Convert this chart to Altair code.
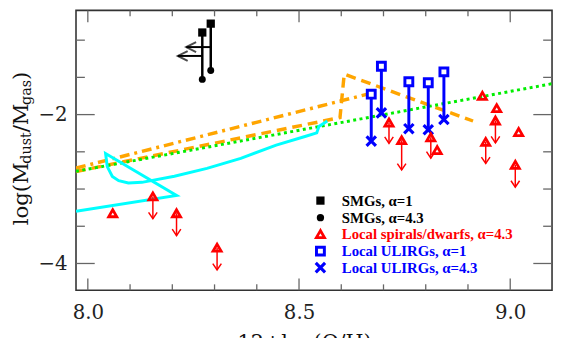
import altair as alt
import pandas as pd

# ---------------- data ----------------
# SMGs (black): alpha=1 (squares) and alpha=4.3 (circles), metallicity upper limits
smg_x = [8.271, 8.291]
smg_y_a1 = [-0.897, -0.778]
smg_y_a43 = [-1.527, -1.408]
smg_limit_dx = [0.058, 0.058]

# Local ULIRGs (blue): alpha=1 (open squares), alpha=4.3 (crosses)
ulirg_x = [8.671, 8.695, 8.760, 8.806, 8.843]
ulirg_y_a1 = [-1.726, -1.351, -1.559, -1.572, -1.426]
ulirg_y_a43 = [-2.356, -1.977, -2.189, -2.203, -2.066]

# Local spirals/dwarfs (red triangles); arrow = length of upper-limit arrow (0 = none)
loc_x = [8.059, 8.154, 8.210, 8.306, 8.713, 8.743, 8.812, 8.827,
         8.934, 8.968, 8.965, 8.942, 9.020, 9.012]
loc_y = [-3.325, -3.099, -3.325, -3.788, -2.106, -2.344, -2.305, -2.477,
         -1.748, -1.914, -2.079, -2.367, -2.234, -2.675]
loc_arrow = [0, 0.30, 0.30, 0.30, 0.28, 0.40, 0.28, 0,
             0, 0, 0.30, 0.29, 0, 0.30]

# model curves
green_x = [7.972, 9.099]
green_y = [-2.762, -1.585]
dashdot_x = [7.972, 8.660]
dashdot_y = [-2.719, -1.728]
dashed_x = [7.972, 8.597, 8.607, 8.912]
dashed_y = [-2.764, -2.040, -1.457, -2.086]
cyan_x = [7.972, 8.210, 8.042, 8.046, 8.058, 8.073, 8.096, 8.128, 8.205,
          8.282, 8.362, 8.446, 8.516, 8.542, 8.547, 8.567]
cyan_y = [-3.298, -3.086, -2.523, -2.698, -2.830, -2.887, -2.918, -2.910,
          -2.828, -2.722, -2.587, -2.411, -2.291, -2.245, -2.159, -2.086]

# axes
x_domain = [7.972, 9.099]
y_domain = [-4.36, -0.6]
x_major = [8.0, 8.5, 9.0]
x_minor = [8.1, 8.2, 8.3, 8.4, 8.6, 8.7, 8.8, 8.9]
y_major = [-4.0, -2.0]
y_minor = [-3.5, -3.0, -2.5, -1.5, -1.0]

legend_labels = ["SMGs, \u03b1=1", "SMGs, \u03b1=4.3",
                 "Local spirals/dwarfs, \u03b1=4.3",
                 "Local ULIRGs, \u03b1=1", "Local ULIRGs, \u03b1=4.3"]

# ---------------- styling ----------------
W, H = 483, 284
RED, BLUE, BLACK = "#ff0000", "#0000ff", "#000000"
ORANGE, CYAN, GREEN = "#ffa500", "#00ffff", "#00ee00"
TICK = "#666666"
SERIF = "DejaVu Serif"

xs = alt.Scale(domain=x_domain, nice=False, zero=False)
ys = alt.Scale(domain=y_domain, nice=False, zero=False)
xaxis = alt.Axis(values=x_major, format=".1f", ticks=False, domain=False,
                 grid=False, labelFont=SERIF, labelFontSize=20,
                 labelColor="#222222", labelPadding=13, title=None)
yaxis = alt.Axis(values=y_major, format="d", ticks=False, domain=False,
                 grid=False, labelFont=SERIF, labelFontSize=20,
                 labelColor="#222222", labelPadding=9, title=None)


def X(f):
    return alt.X(f, type="quantitative", scale=xs, axis=xaxis)


def Y(f):
    return alt.Y(f, type="quantitative", scale=ys, axis=yaxis)


ARROW_DOWN = "M-1,-1.5L0,0L1,-1.5"
ARROW_LEFT = "M2,-1L0,0L2,1"
XSHAPE = "M-1,-1L1,1M-1,1L1,-1"

layers = []

# tick marks (inward)
def tick_layer(vals, axis, length):
    df = pd.DataFrame({"v": vals})
    out = []
    if axis == "x":
        out.append(alt.Chart(df).mark_rule(color=TICK, strokeWidth=1.3).encode(
            x=X("v"), y=alt.value(H), y2=alt.value(H - length)))
        out.append(alt.Chart(df).mark_rule(color=TICK, strokeWidth=1.3).encode(
            x=X("v"), y=alt.value(0), y2=alt.value(length)))
    else:
        out.append(alt.Chart(df).mark_rule(color=TICK, strokeWidth=1.3).encode(
            y=Y("v"), x=alt.value(0), x2=alt.value(length)))
        out.append(alt.Chart(df).mark_rule(color=TICK, strokeWidth=1.3).encode(
            y=Y("v"), x=alt.value(W), x2=alt.value(W - length)))
    return out

layers += tick_layer(x_major, "x", 12)
layers += tick_layer(x_minor, "x", 6)
layers += tick_layer(y_major, "y", 19)
layers += tick_layer(y_minor, "y", 9)

# model curves
df_dashed = pd.DataFrame({"x": dashed_x, "y": dashed_y, "i": range(len(dashed_x))})
layers.append(alt.Chart(df_dashed).mark_line(
    color=ORANGE, strokeWidth=3.5, strokeDash=[10, 6], clip=True).encode(
    x=X("x"), y=Y("y"), order="i:Q"))
df_dd = pd.DataFrame({"x": dashdot_x, "y": dashdot_y, "i": range(len(dashdot_x))})
layers.append(alt.Chart(df_dd).mark_line(
    color=ORANGE, strokeWidth=3.5, strokeDash=[10, 5, 3, 5], clip=True).encode(
    x=X("x"), y=Y("y"), order="i:Q"))
df_green = pd.DataFrame({"x": green_x, "y": green_y, "i": range(len(green_x))})
layers.append(alt.Chart(df_green).mark_line(
    color=GREEN, strokeWidth=3, strokeDash=[3, 3.5], clip=True).encode(
    x=X("x"), y=Y("y"), order="i:Q"))
df_cyan = pd.DataFrame({"x": cyan_x, "y": cyan_y, "i": range(len(cyan_x))})
layers.append(alt.Chart(df_cyan).mark_line(
    color=CYAN, strokeWidth=3, clip=True).encode(
    x=X("x"), y=Y("y"), order="i:Q"))

# SMGs
df_smg = pd.DataFrame({"x": smg_x, "y1": smg_y_a1, "y43": smg_y_a43,
                       "ym": [(a + b) / 2 for a, b in zip(smg_y_a1, smg_y_a43)],
                       "xl": [a - d for a, d in zip(smg_x, smg_limit_dx)]})
layers.append(alt.Chart(df_smg).mark_rule(color=BLACK, strokeWidth=2.5).encode(
    x=X("x"), y=Y("y1"), y2="y43"))
layers.append(alt.Chart(df_smg).mark_rule(color=BLACK, strokeWidth=2).encode(
    x=X("x"), x2="xl", y=Y("ym")))
layers.append(alt.Chart(df_smg).mark_point(
    shape=ARROW_LEFT, filled=False, color=BLACK, strokeWidth=2, size=100).encode(
    x=X("xl"), y=Y("ym")))
layers.append(alt.Chart(df_smg).mark_point(
    shape="square", filled=True, color=BLACK, opacity=1, size=70).encode(
    x=X("x"), y=Y("y1")))
layers.append(alt.Chart(df_smg).mark_point(
    shape="circle", filled=True, color=BLACK, opacity=1, size=50).encode(
    x=X("x"), y=Y("y43")))

# ULIRGs
df_ul = pd.DataFrame({"x": ulirg_x, "y1": ulirg_y_a1, "y43": ulirg_y_a43})
layers.append(alt.Chart(df_ul).mark_rule(color=BLUE, strokeWidth=3).encode(
    x=X("x"), y=Y("y1"), y2="y43"))
layers.append(alt.Chart(df_ul).mark_point(
    shape="square", filled=True, fill="white", color=BLUE, stroke=BLUE,
    strokeWidth=3, opacity=1, size=64).encode(x=X("x"), y=Y("y1")))
layers.append(alt.Chart(df_ul).mark_point(
    shape=XSHAPE, filled=False, color=BLUE, strokeWidth=3.2, opacity=1,
    size=90).encode(x=X("x"), y=Y("y43")))

# local spirals/dwarfs
df_loc = pd.DataFrame({"x": loc_x, "y": loc_y, "a": loc_arrow})
df_loc["ye"] = df_loc["y"] - df_loc["a"]
df_lim = df_loc[df_loc["a"] > 0]
layers.append(alt.Chart(df_lim).mark_rule(color=RED, strokeWidth=1.5).encode(
    x=X("x"), y=Y("y"), y2="ye"))
layers.append(alt.Chart(df_lim).mark_point(
    shape=ARROW_DOWN, filled=False, color=RED, strokeWidth=1.5, opacity=1,
    size=76).encode(x=X("x"), y=Y("ye")))
layers.append(alt.Chart(df_loc).mark_point(
    shape="triangle-up", filled=False, color=RED, strokeWidth=2.8, opacity=1,
    size=68).encode(x=X("x"), y=Y("y")))

# legend (drawn inside the plot)
leg_rows = [193, 210.3, 227, 244.3, 261]
leg_colors = [BLACK, BLACK, RED, BLUE, BLUE]
leg_marks = [dict(shape="square", filled=True, size=70, strokeWidth=0),
             dict(shape="circle", filled=True, size=55, strokeWidth=0),
             dict(shape="triangle-up", filled=False, size=68, strokeWidth=2.8),
             dict(shape="square", filled=False, size=64, strokeWidth=3),
             dict(shape=XSHAPE, filled=False, size=90, strokeWidth=3.2)]
one = pd.DataFrame({"k": [0]})
for lab, col, yy, mk in zip(legend_labels, leg_colors, leg_rows, leg_marks):
    layers.append(alt.Chart(one).mark_point(color=col, opacity=1, **mk).encode(
        x=alt.value(248), y=alt.value(yy)))
    layers.append(alt.Chart(one).mark_text(
        align="left", baseline="middle", font="Liberation Serif",
        fontWeight="bold", fontSize=15, color=col).encode(
        x=alt.value(269.7), y=alt.value(yy), text=alt.value(lab)))

# y-axis title  log(M_dust / M_gas), built from pieces (rotated, chained)
MAIN_FS, SUB_FS = 21.5, 14.5
title_pieces = [("log(M", MAIN_FS, -49, 2.904),
                ("dust", SUB_FS, -45.5, 2.199),
                ("/M", MAIN_FS, -49, 1.289),
                ("gas", SUB_FS, -45.5, 1.749),
                (")", MAIN_FS, -49, 0.390)]
ypos = 218.0
for txt, fs, xx, em in title_pieces:
    layers.append(alt.Chart(one).mark_text(
        align="left", baseline="alphabetic", angle=270, font=SERIF,
        fontSize=fs, color="#111111").encode(
        x=alt.value(xx), y=alt.value(ypos), text=alt.value(txt)))
    ypos -= em * fs

# x-axis title (cut by the bottom of the picture)
layers.append(alt.Chart(one).mark_text(
    align="center", baseline="alphabetic", font=SERIF, fontSize=21,
    color="#111111").encode(
    x=alt.value(232), y=alt.value(344), text=alt.value("12+log(O/H)")))

chart = alt.layer(*layers).properties(
    width=W, height=H,
    autosize=alt.AutoSizeParams(type="none"),
    padding={"left": 69, "top": 0, "right": 2, "bottom": 46},
).configure_view(stroke="#333333", strokeWidth=1.6)

chart.save("out.html", embed_options={"renderer": "svg", "actions": False})
